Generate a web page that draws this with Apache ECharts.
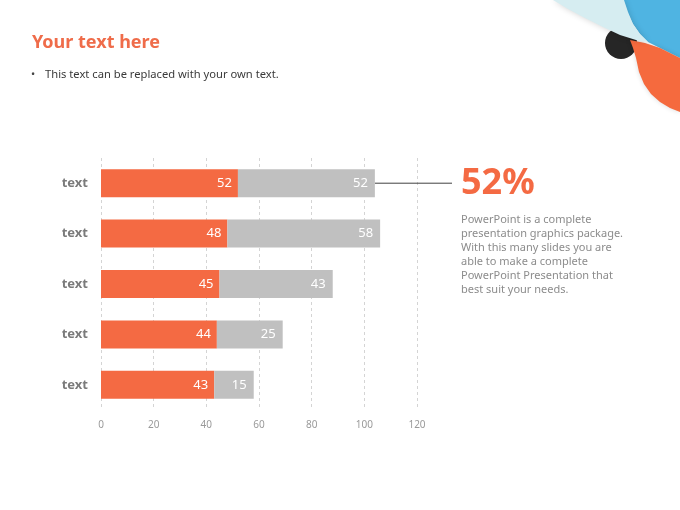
<!DOCTYPE html>
<html>
<head>
<meta charset="utf-8">
<script src="https://cdn.jsdelivr.net/npm/echarts@6/dist/echarts.min.js"></script>
<style>
  html, body { margin: 0; padding: 0; background: #fff; }
  #main { width: 680px; height: 510px; }
</style>
</head>
<body>
<div id="main"></div>
<script>
var categories = ['text', 'text', 'text', 'text', 'text'];
var orangeValues = [52, 48, 45, 44, 43];
var greyValues = [52, 58, 43, 25, 15];
var xTicks = [0, 20, 40, 60, 80, 100, 120];

var ORANGE = '#f46a43';
var GREY = '#c0c0c0';
var FONT = '"Noto Sans", "Open Sans", sans-serif';

var myChart = echarts.init(document.getElementById('main'));

var option = {
    backgroundColor: '#ffffff',
    animation: false,
    grid: {
        left: 101,
        right: 263,
        top: 158,
        bottom: 100
    },
    xAxis: {
        type: 'value',
        min: xTicks[0],
        max: xTicks[xTicks.length - 1],
        interval: xTicks[1] - xTicks[0],
        axisLine: { show: false },
        axisTick: { show: false },
        axisLabel: {
            color: '#9a9a9a',
            fontSize: 10,
            fontFamily: FONT,
            margin: 10
        },
        splitLine: {
            show: true,
            lineStyle: { color: '#d4d4d4', type: [3, 3], width: 1 }
        }
    },
    yAxis: {
        type: 'category',
        inverse: true,
        data: categories,
        axisLine: { show: false },
        axisTick: { show: false },
        axisLabel: {
            color: '#7b7b7b',
            fontSize: 13,
            fontWeight: 'bold',
            fontFamily: FONT,
            margin: 13
        }
    },
    series: [
        {
            name: 'a',
            type: 'bar',
            stack: 'total',
            barWidth: 28,
            data: orangeValues,
            itemStyle: { color: ORANGE },
            label: {
                show: true,
                position: 'insideRight',
                distance: 6,
                color: '#ffffff',
                fontSize: 13,
                fontFamily: FONT
            }
        },
        {
            name: 'b',
            type: 'bar',
            stack: 'total',
            barWidth: 28,
            data: greyValues,
            itemStyle: { color: GREY },
            label: {
                show: true,
                position: 'insideRight',
                distance: 7,
                color: '#ffffff',
                fontSize: 13,
                fontFamily: FONT
            }
        }
    ]
};

myChart.setOption(option);

// callout line from the end of the first bar to the big number
var endPt = myChart.convertToPixel({ gridIndex: 0 }, [orangeValues[0] + greyValues[0], 0]);

myChart.setOption({
    graphic: [
        // corner decoration
        {
            type: 'polygon',
            z: 3,
            shape: { points: [[553, 0], [624, 0], [628, 12], [633, 24], [640, 34], [648, 42], [636, 40], [620, 35], [603, 27], [585, 18], [568, 9]] },
            style: { fill: '#d6edf1', shadowBlur: 6, shadowColor: 'rgba(0,0,0,0.18)' }
        },
        {
            type: 'polygon',
            z: 2,
            shape: { points: [[620, 0], [680, 0], [680, 58], [670, 53], [660, 48], [648, 42], [640, 34], [633, 24], [627, 12]] },
            style: { fill: '#4fb4e2' }
        },
        {
            type: 'circle',
            z: 1,
            shape: { cx: 621, cy: 43, r: 16 },
            style: { fill: '#262626' }
        },
        {
            type: 'polygon',
            z: 2,
            shape: { points: [[630, 40], [645, 43], [660, 48], [670, 53], [680, 58], [680, 112], [670, 108], [660, 102], [651, 94], [644, 84], [639, 72], [636, 58], [633, 48]] },
            style: { fill: '#f56a3e', shadowBlur: 5, shadowColor: 'rgba(0,0,0,0.15)' }
        },
        // title and bullet
        {
            type: 'text',
            left: 32,
            top: 34,
            style: {
                text: 'Your text here',
                fill: '#ef6c4a',
                font: 'bold 18px ' + FONT
            }
        },
        {
            type: 'text',
            left: 31,
            top: 69,
            style: {
                text: '•',
                fill: '#444',
                font: '11px ' + FONT
            }
        },
        {
            type: 'text',
            left: 45,
            top: 69,
            style: {
                text: 'This text can be replaced with your own text.',
                fill: '#3a3a3a',
                font: '11.2px ' + FONT
            }
        },
        // callout
        {
            type: 'line',
            shape: { x1: endPt[0], y1: endPt[1], x2: 452, y2: endPt[1] },
            style: { stroke: '#404040', lineWidth: 1 }
        },
        {
            type: 'text',
            x: 461,
            y: endPt[1] + 1,
            style: {
                text: orangeValues[0] + '%',
                fill: ORANGE,
                font: 'bold 36px ' + FONT,
                verticalAlign: 'middle'
            }
        },
        {
            type: 'text',
            x: 461,
            y: 213,
            style: {
                text: 'PowerPoint is a complete\npresentation graphics package.\nWith this many slides you are\nable to make a complete\nPowerPoint Presentation that\nbest suit your needs.',
                fill: '#8c8c8c',
                font: '11px ' + FONT,
                lineHeight: 13.9
            }
        }
    ]
});
</script>
</body>
</html>
